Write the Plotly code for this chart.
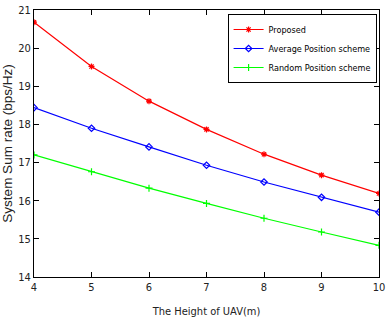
import plotly.graph_objects as go

heights = [4, 5, 6, 7, 8, 9, 10]
proposed = [20.68, 19.52, 18.61, 17.87, 17.22, 16.67, 16.19]
average_pos = [18.44, 17.90, 17.41, 16.93, 16.49, 16.09, 15.70]
random_pos = [17.20, 16.76, 16.33, 15.93, 15.54, 15.18, 14.83]

names = ["Proposed", "Average Position scheme", "Random Position scheme"]
colors = ["#ff0000", "#0000ff", "#00ff00"]
symbols = ["asterisk-open", "diamond-open", "cross-thin-open"]

COND = "DejaVu Sans Condensed, Liberation Sans, sans-serif"

fig = go.Figure()
for ys, nm, c, s in zip([proposed, average_pos, random_pos], names, colors, symbols):
    fig.add_trace(go.Scatter(
        x=heights, y=ys, name=nm, mode="lines+markers",
        line=dict(color=c, width=1.2),
        marker=dict(symbol=s, size=5, color=c, line=dict(color=c, width=1.2)),
    ))

axis_common = dict(
    showline=True, linecolor="black", linewidth=1, mirror="ticks",
    ticks="inside", ticklen=5, tickcolor="black", showgrid=False, zeroline=False,
    tickfont=dict(family=COND, size=11, color="#222222"),
    ticklabeloverflow="allow",
)
fig.update_xaxes(range=[4, 10], dtick=1, title=dict(text="The Height of UAV(m)",
                 font=dict(family=COND, size=11, color="#222222"), standoff=14),
                 **axis_common)
fig.update_yaxes(range=[14, 21], dtick=1, title=dict(text="System Sum rate (bps/Hz)",
                 font=dict(family="Liberation Sans", size=13.5, color="#222222"), standoff=5),
                 **axis_common)
fig.update_layout(
    width=389, height=328,
    margin=dict(l=33, r=4, t=7, b=51),
    plot_bgcolor="white", paper_bgcolor="white",
    legend=dict(x=0.993, y=0.985, xanchor="right", yanchor="top",
                bgcolor="white", bordercolor="black", borderwidth=1,
                font=dict(family=COND, size=9, color="black"),
                tracegroupgap=0, itemwidth=30),
)
fig.write_html("out.html")
